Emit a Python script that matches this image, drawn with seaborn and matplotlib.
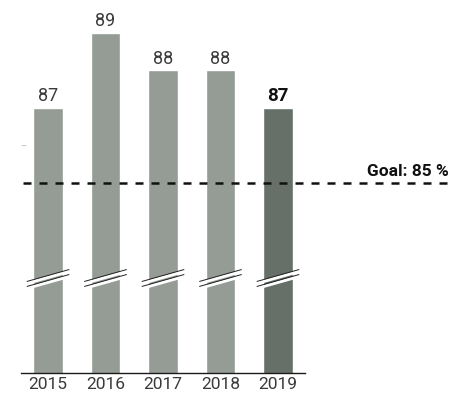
import matplotlib
matplotlib.use("Agg")
import matplotlib.pyplot as plt
import matplotlib.transforms as mtransforms
import seaborn as sns
import pandas as pd

# Values
years = ["2015", "2016", "2017", "2018", "2019"]
values = [87, 89, 88, 88, 87]
goal = 85
goal_label = "Goal: 85 %"

bar_light = "#949c95"
bar_dark = "#667068"
colors = [bar_light, bar_light, bar_light, bar_light, bar_dark]

sns.set_theme(style="white")
plt.rcParams["font.family"] = ["Roboto", "DejaVu Sans"]

W, H = 467, 400
fig = plt.figure(figsize=(W / 100, H / 100), dpi=100)
# axes: left edge x=21px, baseline y=373px
ax_left, ax_bottom_px, ax_w, ax_h = 21, 373, 284, 360
ax = fig.add_axes([ax_left / W, (H - ax_bottom_px) / H, ax_w / W, ax_h / H])

df = pd.DataFrame({"year": years, "value": values})
sns.barplot(data=df, x="year", y="value", hue="year", palette=colors,
            legend=False, width=0.52, ax=ax, saturation=1, zorder=2)

px_per_unit = 37.5
ymin = 79.93
ax.set_ylim(ymin, ymin + ax_h / px_per_unit)
ax.set_xlim(-0.47, len(years) - 1 + 0.47)

# spines
for s in ["top", "right", "left"]:
    ax.spines[s].set_visible(False)
ax.spines["bottom"].set_color("#1a1a1a")
ax.spines["bottom"].set_linewidth(1.0)

ax.set_xlabel("")
ax.set_ylabel("")
ax.set_yticks([86])
ax.set_yticklabels([])
ax.tick_params(axis="y", direction="in", length=3.5, width=0.8, color="#d0d0d0", left=True)
ax.tick_params(axis="x", length=0, pad=3, labelsize=12.5, labelcolor="#3a3a3a")
for lbl in ax.get_xticklabels():
    lbl.set_fontweight("normal")

# value labels
for i, v in enumerate(values):
    last = i == len(values) - 1
    ax.annotate(str(v), (i, v), xytext=(0, 2), textcoords="offset points",
                ha="center", va="bottom", fontsize=13.5 if last else 13,
                fontweight="bold" if last else "normal",
                color="#111111" if last else "#3a3a3a", clip_on=False)

# goal line extending past the axes
trans = mtransforms.blended_transform_factory(fig.transFigure, ax.transData)
ax.plot([23 / W, 452 / W], [goal, goal], transform=trans, color="#111111",
        lw=1.8, dashes=(3.2, 3.2), clip_on=False, zorder=3)
ax.text(449 / W, goal + 0.1, goal_label, transform=trans, ha="right", va="bottom",
        fontsize=12.5, fontweight="bold", color="#111111", clip_on=False)

# axis break marks across each bar
half = 0.37
for i in range(len(years)):
    for off in (0.0, -0.133):
        y0, y1 = 82.37 + off, 82.69 + off
        ax.plot([i - half, i + half], [y0 - 0.05, y1 - 0.05], color="white",
                lw=2.2, solid_capstyle="butt", zorder=4)
        ax.plot([i - half, i + half], [y0, y1], color="#222222",
                lw=0.7, solid_capstyle="butt", zorder=5)

fig.savefig("out.png", dpi=100)
